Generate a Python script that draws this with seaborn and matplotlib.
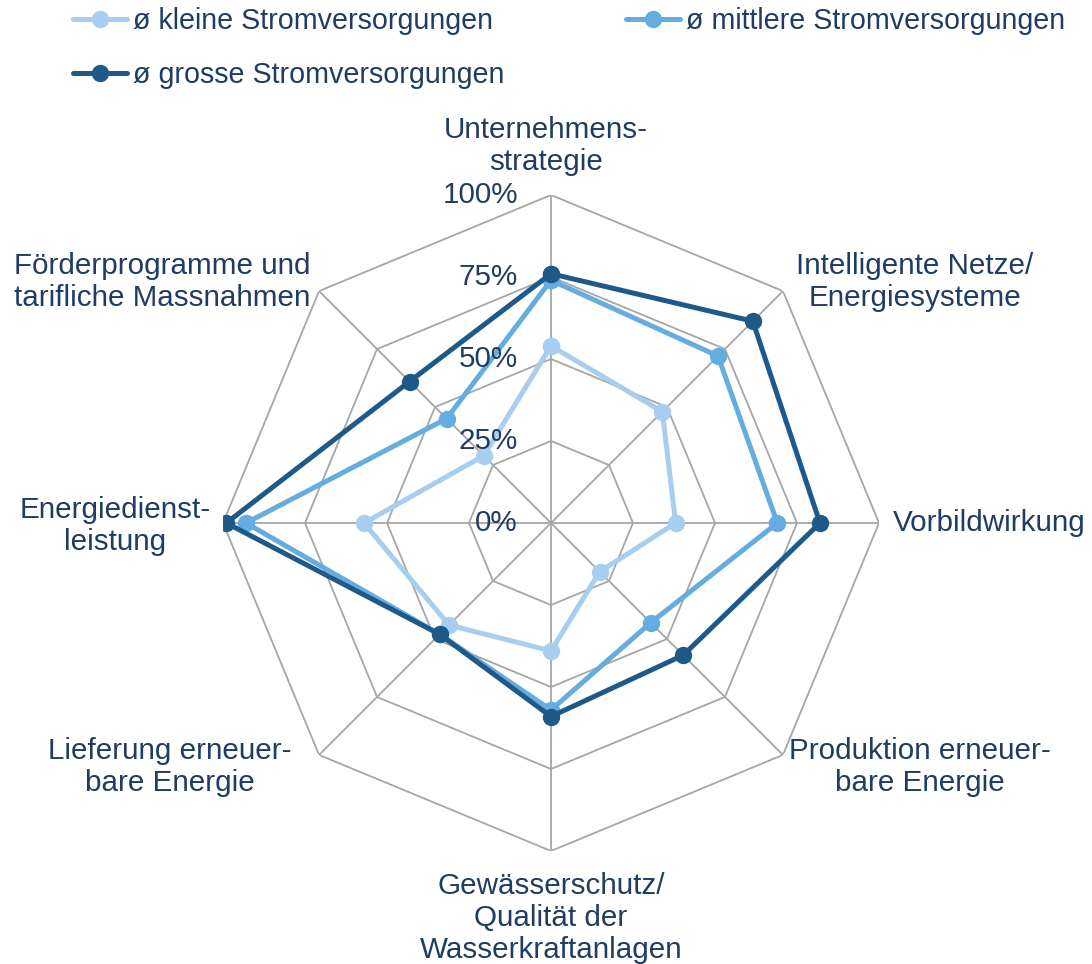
import numpy as np
import pandas as pd
import matplotlib
matplotlib.use("Agg")
import matplotlib.pyplot as plt
import matplotlib.transforms as mtrans
from matplotlib.lines import Line2D
import seaborn as sns

categories = ["Unternehmens-\nstrategie", "Intelligente Netze/\nEnergiesysteme", "Vorbildwirkung",
              "Produktion erneuer-\nbare Energie", "Gewässerschutz/\nQualität der\nWasserkraftanlagen",
              "Lieferung erneuer-\nbare Energie", "Energiedienst-\nleistung",
              "Förderprogramme und\ntarifliche Massnahmen"]
series_names = ["ø kleine Stromversorgungen", "ø mittlere Stromversorgungen", "ø grosse Stromversorgungen"]
klein = [54, 48, 38, 21, 39, 44, 57, 29]
mittel = [74, 72, 69, 43, 57, 48, 93, 45]
gross = [76, 87, 82, 57, 59, 48, 99, 61]
r_ticks = [0, 25, 50, 75, 100]
r_tick_labels = ["0%", "25%", "50%", "75%", "100%"]

colors = ["#A7CEEE", "#65ACE0", "#1D5A8A"]
text_color = "#1F3D64"
grid_color = "#A6A6A6"

sns.set_theme(style="white")
plt.rcParams["font.family"] = ["Liberation Sans", "DejaVu Sans"]
FS = 21.3
LW = 3.6
MS = 12.5

n = len(categories)
angles = np.arange(n) * 2 * np.pi / n
rows = []
for name, vals in zip(series_names, [klein, mittel, gross]):
    for i in range(n + 1):
        rows.append({"theta": angles[i % n] if i < n else 2 * np.pi,
                     "value": vals[i % n], "series": name, "order": i})
df = pd.DataFrame(rows)

W, H = 1092, 964
fig = plt.figure(figsize=(W / 100, H / 100), dpi=100)
cx, cy, R = 551, 523, 328
ax = fig.add_axes([(cx - R) / W, (H - cy - R) / H, 2 * R / W, 2 * R / H], projection="polar")
ax.set_theta_zero_location("N")
ax.set_theta_direction(-1)
ax.set_ylim(0, 100)
ax.grid(False)
ax.spines["polar"].set_visible(False)
ax.set_xticks([])
ax.set_yticks([])
ax.patch.set_alpha(0)

# octagonal grid
ring_theta = np.append(angles, 2 * np.pi)
for rv in r_ticks[1:]:
    ax.plot(ring_theta, [rv] * (n + 1), color=grid_color, lw=1.3, zorder=1)
for a in angles:
    ax.plot([a, a], [0, 100], color=grid_color, lw=1.3, zorder=1)

sns.lineplot(data=df, x="theta", y="value", hue="series", hue_order=series_names,
             palette=colors, sort=False, estimator=None, units="series",
             marker="o", markersize=MS, markeredgewidth=0, linewidth=LW,
             legend=False, ax=ax, zorder=3)
ax.set_xlabel("")
ax.set_ylabel("")
ax.set_ylim(0, 100)

# radial labels
off = mtrans.offset_copy(ax.transData, fig=fig, x=-33, y=0, units="dots")
for rv, lab in zip(r_ticks, r_tick_labels):
    ax.text(0, rv, lab, transform=off, ha="right", va="center", fontsize=FS, color=text_color)

# category labels (pixel positions)
label_pos = [
    (546, 146, "center"),
    (915, 282, "center"),
    (893, 523, "left"),
    (920, 767, "center"),
    (551, 918, "center"),
    (170, 767, "center"),
    (115, 526, "center"),
    (162, 282, "center"),
]
for cat, (x, y, ha) in zip(categories, label_pos):
    fig.text(x / W, 1 - y / H, cat, ha=ha, va="center", fontsize=FS, color=text_color,
             linespacing=1.2, multialignment="center")

handles = [Line2D([0], [0], color=c, lw=LW, marker="o", markersize=MS, markeredgewidth=0)
           for c in colors]
order = [0, 2, 1]
leg = fig.legend([handles[i] for i in order], [series_names[i] for i in order],
                 loc="upper left", bbox_to_anchor=(73 / W, 1 - 7 / H),
                 ncol=2, frameon=False, fontsize=20.6, handlelength=1.9, handletextpad=0.2,
                 columnspacing=4.25, labelspacing=0.92, borderpad=0, borderaxespad=0)
for t in leg.get_texts():
    t.set_color(text_color)

fig.savefig("out.png", dpi=100)
